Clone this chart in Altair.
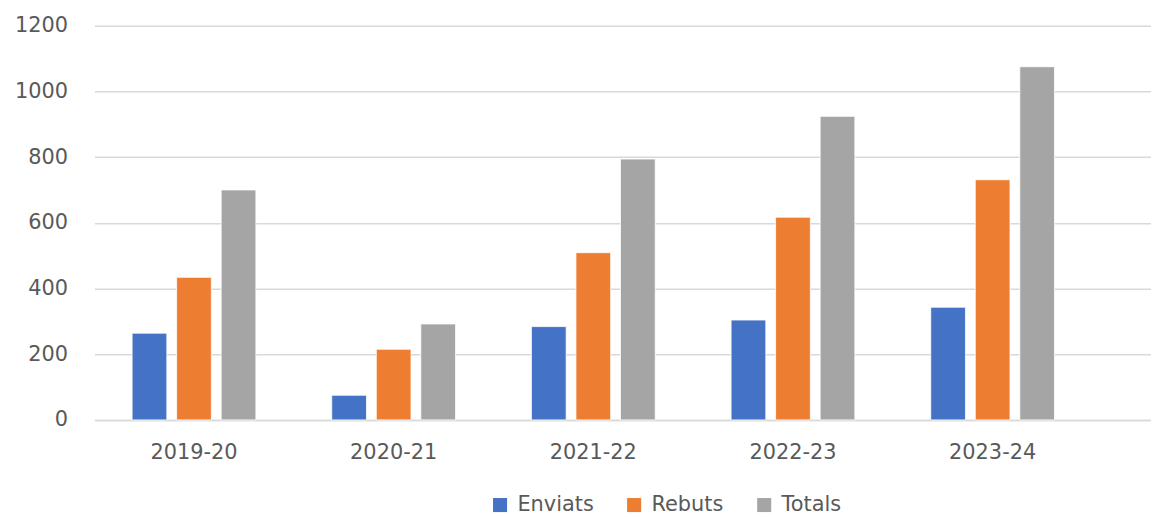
import altair as alt
import pandas as pd

years = ["2019-20", "2020-21", "2021-22", "2022-23", "2023-24"]
series = ["Enviats", "Rebuts", "Totals"]
enviats = [264, 75, 284, 304, 343]
rebuts = [434, 215, 509, 617, 731]
totals = [700, 292, 794, 924, 1075]
colors = ["#4472C4", "#ED7D31", "#A5A5A5"]

rows = []
for i, y in enumerate(years):
    for s, vals in zip(series, [enviats, rebuts, totals]):
        rows.append({"year": y, "series": s, "value": vals[i]})
df = pd.DataFrame(rows)

FONT = "DejaVu Sans"
TXT = "#595959"

chart = alt.Chart(df).mark_bar(stroke="white", strokeWidth=0.8).encode(
    x=alt.X("year:N", sort=years, title=None,
            scale=alt.Scale(paddingInner=0.38, paddingOuter=0.336, align=0.281),
            axis=alt.Axis(labelAngle=0, labelFont=FONT, labelFontSize=21, labelColor=TXT,
                          ticks=False, domainColor="#D9D9D9", domainWidth=1.5,
                          labelPadding=22)),
    xOffset=alt.XOffset("series:N", sort=series,
                        scale=alt.Scale(paddingInner=0.22, paddingOuter=0)),
    y=alt.Y("value:Q", title=None,
            scale=alt.Scale(domain=[0, 1200]),
            axis=alt.Axis(values=[0, 200, 400, 600, 800, 1000, 1200], format="d",
                          labelFont=FONT,
                          labelFontSize=21, labelColor=TXT, ticks=False, domain=False,
                          gridColor="#D9D9D9", gridWidth=1.5, labelPadding=27)),
    color=alt.Color("series:N", sort=series, title=None,
                    scale=alt.Scale(domain=series, range=colors),
                    legend=alt.Legend(orient="none", direction="horizontal",
                                      legendX=398, legendY=472,
                                      symbolType="square", symbolSize=200,
                                      symbolStrokeWidth=0, labelFont=FONT,
                                      labelFontSize=21, labelColor=TXT,
                                      columnPadding=30, labelOffset=7)),
).properties(
    width=1064, height=397,
    autosize=alt.AutoSizeParams(type="none"),
    padding={"left": 87, "top": 16, "right": 0, "bottom": 96},
).configure_view(stroke=None)

chart.save("out.html", embed_options={"renderer": "svg", "actions": False})
